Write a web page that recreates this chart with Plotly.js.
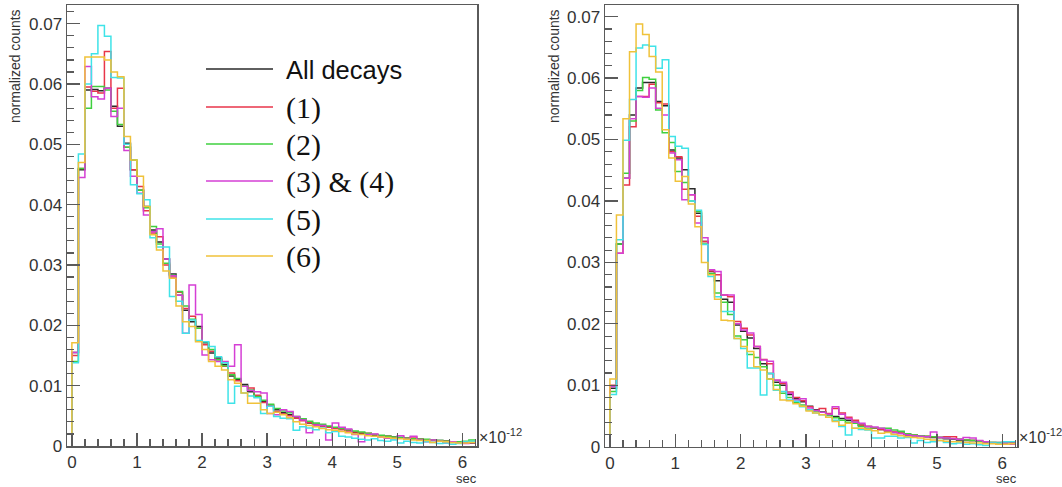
<!DOCTYPE html>
<html>
<head>
<meta charset="utf-8">
<script src="https://cdn.plot.ly/plotly-3.0.1.min.js"></script>
<style>
html,body{margin:0;padding:0;background:#fff;}
#chart{width:1062px;height:487px;}
</style>
</head>
<body>
<div id="chart"></div>
<script>
// Bin edges (units of 1e-12 s), 62 bins of width 0.1
const binEdges = [0,0.1,0.2,0.3,0.4,0.5,0.6,0.7,0.8,0.9,1.0,1.1,1.2,1.3,1.4,1.5,1.6,1.7,1.8,1.9,2.0,2.1,2.2,2.3,2.4,2.5,2.6,2.7,2.8,2.9,3.0,3.1,3.2,3.3,3.4,3.5,3.6,3.7,3.8,3.9,4.0,4.1,4.2,4.3,4.4,4.5,4.6,4.7,4.8,4.9,5.0,5.1,5.2,5.3,5.4,5.5,5.6,5.7,5.8,5.9,6.0,6.1,6.2];

const seriesNames = ["All decays","(1)","(2)","(3) & (4)","(5)","(6)"];

// ---- Left panel ----
const leftAll = [0.0155,0.0458,0.0590,0.0591,0.0589,0.0593,0.0563,0.0530,0.0502,0.0458,0.0424,0.0397,0.0358,0.0338,0.0310,0.0285,0.0250,0.0225,0.0206,0.0198,0.0171,0.0154,0.0146,0.0135,0.0116,0.0110,0.0102,0.0090,0.0082,0.0074,0.0066,0.0060,0.0055,0.0052,0.0048,0.0043,0.0038,0.0036,0.0033,0.0032,0.0030,0.0028,0.0026,0.0022,0.0021,0.0020,0.0018,0.0017,0.0016,0.0015,0.0014,0.0013,0.0012,0.0011,0.0010,0.0009,0.0009,0.0008,0.0007,0.0007,0.0006,0.0005];
const left1 = [0.0150,0.0460,0.0595,0.0588,0.0585,0.0654,0.0560,0.0593,0.0495,0.0458,0.0430,0.0390,0.0353,0.0347,0.0300,0.0280,0.0255,0.0228,0.0215,0.0195,0.0168,0.0157,0.0143,0.0132,0.0121,0.0108,0.0100,0.0096,0.0084,0.0072,0.0068,0.0057,0.0053,0.0050,0.0046,0.0042,0.0039,0.0035,0.0033,0.0031,0.0029,0.0027,0.0025,0.0023,0.0022,0.0021,0.0019,0.0017,0.0016,0.0014,0.0013,0.0013,0.0015,0.0011,0.0010,0.0010,0.0008,0.0008,0.0006,0.0007,0.0005,0.0006];
const left2 = [0.0140,0.0460,0.0560,0.0596,0.0596,0.0590,0.0555,0.0533,0.0495,0.0474,0.0424,0.0395,0.0364,0.0335,0.0303,0.0283,0.0256,0.0232,0.0210,0.0195,0.0173,0.0160,0.0143,0.0133,0.0118,0.0112,0.0100,0.0093,0.0082,0.0076,0.0069,0.0062,0.0058,0.0055,0.0049,0.0045,0.0041,0.0038,0.0036,0.0033,0.0031,0.0029,0.0027,0.0025,0.0023,0.0021,0.0019,0.0018,0.0016,0.0015,0.0014,0.0013,0.0012,0.0011,0.0011,0.0010,0.0009,0.0008,0.0007,0.0007,0.0008,0.0010];
const left34 = [0.0155,0.0445,0.0629,0.0579,0.0575,0.0593,0.0546,0.0560,0.0490,0.0447,0.0419,0.0383,0.0355,0.0360,0.0310,0.0282,0.0250,0.0187,0.0267,0.0218,0.0151,0.0143,0.0140,0.0140,0.0132,0.0168,0.0099,0.0092,0.0090,0.0088,0.0054,0.0052,0.0060,0.0057,0.0049,0.0043,0.0022,0.0035,0.0034,0.0010,0.0038,0.0031,0.0028,0.0019,0.0007,0.0019,0.0020,0.0015,0.0013,0.0012,0.0017,0.0011,0.0016,0.0010,0.0007,0.0010,0.0008,0.0005,0.0007,0.0005,0.0004,0.0006];
const left5 = [0.0138,0.0484,0.0600,0.0650,0.0697,0.0679,0.0611,0.0610,0.0500,0.0433,0.0418,0.0408,0.0345,0.0330,0.0330,0.0248,0.0240,0.0187,0.0209,0.0175,0.0173,0.0165,0.0148,0.0138,0.0071,0.0099,0.0088,0.0083,0.0080,0.0054,0.0066,0.0049,0.0046,0.0045,0.0026,0.0032,0.0030,0.0027,0.0030,0.0022,0.0024,0.0016,0.0015,0.0013,0.0011,0.0010,0.0012,0.0009,0.0008,0.0010,0.0005,0.0008,0.0006,0.0005,0.0007,0.0006,0.0004,0.0005,0.0003,0.0004,0.0007,0.0008];
const left6 = [0.0171,0.0470,0.0645,0.0645,0.0645,0.0640,0.0620,0.0612,0.0513,0.0474,0.0447,0.0397,0.0350,0.0325,0.0290,0.0278,0.0232,0.0206,0.0198,0.0173,0.0160,0.0140,0.0132,0.0126,0.0110,0.0104,0.0088,0.0071,0.0071,0.0060,0.0054,0.0056,0.0052,0.0047,0.0040,0.0036,0.0034,0.0032,0.0029,0.0027,0.0026,0.0024,0.0022,0.0020,0.0019,0.0017,0.0016,0.0015,0.0014,0.0013,0.0012,0.0011,0.0010,0.0009,0.0009,0.0006,0.0008,0.0007,0.0006,0.0005,0.0005,0.0006];

// ---- Right panel ----
const rightAll = [0.0095,0.0330,0.0437,0.0540,0.0584,0.0593,0.0593,0.0562,0.0555,0.0483,0.0470,0.0451,0.0420,0.0380,0.0334,0.0285,0.0270,0.0240,0.0235,0.0198,0.0188,0.0177,0.0160,0.0135,0.0119,0.0105,0.0100,0.0085,0.0078,0.0073,0.0066,0.0060,0.0057,0.0052,0.0049,0.0046,0.0043,0.0040,0.0035,0.0033,0.0030,0.0028,0.0026,0.0023,0.0022,0.0019,0.0018,0.0017,0.0016,0.0015,0.0015,0.0013,0.0012,0.0011,0.0010,0.0010,0.0009,0.0008,0.0007,0.0007,0.0006,0.0006];
const right1 = [0.0100,0.0315,0.0426,0.0521,0.0570,0.0570,0.0590,0.0560,0.0558,0.0480,0.0472,0.0419,0.0410,0.0375,0.0334,0.0286,0.0280,0.0247,0.0244,0.0204,0.0193,0.0182,0.0163,0.0142,0.0135,0.0108,0.0103,0.0089,0.0080,0.0075,0.0065,0.0059,0.0062,0.0054,0.0062,0.0055,0.0048,0.0043,0.0035,0.0033,0.0030,0.0028,0.0026,0.0024,0.0022,0.0020,0.0019,0.0018,0.0017,0.0016,0.0015,0.0016,0.0016,0.0012,0.0011,0.0010,0.0009,0.0008,0.0006,0.0005,0.0006,0.0007];
const right2 = [0.0090,0.0330,0.0445,0.0530,0.0580,0.0601,0.0598,0.0548,0.0511,0.0495,0.0448,0.0430,0.0400,0.0383,0.0330,0.0282,0.0250,0.0235,0.0215,0.0180,0.0174,0.0150,0.0145,0.0130,0.0110,0.0100,0.0087,0.0080,0.0072,0.0068,0.0060,0.0058,0.0056,0.0052,0.0047,0.0043,0.0040,0.0038,0.0033,0.0029,0.0031,0.0030,0.0030,0.0027,0.0025,0.0021,0.0019,0.0018,0.0017,0.0016,0.0015,0.0014,0.0013,0.0012,0.0011,0.0010,0.0009,0.0008,0.0007,0.0006,0.0006,0.0005];
const right34 = [0.0098,0.0315,0.0437,0.0534,0.0570,0.0569,0.0584,0.0551,0.0540,0.0478,0.0467,0.0402,0.0410,0.0364,0.0340,0.0288,0.0285,0.0247,0.0247,0.0200,0.0190,0.0185,0.0163,0.0141,0.0139,0.0108,0.0105,0.0087,0.0076,0.0078,0.0063,0.0059,0.0056,0.0053,0.0065,0.0053,0.0046,0.0040,0.0038,0.0033,0.0032,0.0030,0.0027,0.0023,0.0021,0.0019,0.0018,0.0017,0.0016,0.0024,0.0015,0.0014,0.0013,0.0012,0.0015,0.0014,0.0010,0.0008,0.0006,0.0005,0.0006,0.0004];
const right5 = [0.0085,0.0337,0.0499,0.0565,0.0649,0.0654,0.0652,0.0616,0.0630,0.0505,0.0489,0.0486,0.0400,0.0385,0.0329,0.0277,0.0244,0.0220,0.0220,0.0176,0.0160,0.0128,0.0128,0.0084,0.0119,0.0092,0.0090,0.0076,0.0074,0.0065,0.0060,0.0055,0.0052,0.0048,0.0043,0.0033,0.0019,0.0030,0.0028,0.0027,0.0014,0.0014,0.0017,0.0017,0.0014,0.0015,0.0006,0.0010,0.0007,0.0008,0.0010,0.0007,0.0005,0.0006,0.0004,0.0005,0.0003,0.0002,0.0006,0.0006,0.0008,0.0008];
const right6 = [0.0110,0.0377,0.0534,0.0643,0.0688,0.0671,0.0635,0.0610,0.0516,0.0470,0.0432,0.0440,0.0395,0.0358,0.0300,0.0280,0.0240,0.0206,0.0205,0.0176,0.0163,0.0155,0.0130,0.0125,0.0110,0.0093,0.0076,0.0075,0.0070,0.0066,0.0058,0.0055,0.0052,0.0048,0.0041,0.0035,0.0038,0.0030,0.0030,0.0028,0.0026,0.0022,0.0023,0.0020,0.0018,0.0016,0.0015,0.0014,0.0012,0.0011,0.0010,0.0009,0.0008,0.0008,0.0007,0.0006,0.0006,0.0005,0.0005,0.0004,0.0004,0.0005];

const leftSeries = [leftAll, left1, left2, left34, left5, left6];
const rightSeries = [rightAll, right1, right2, right34, right5, right6];
const colors = ["#2a2a2a","#e8354a","#3fd03f","#d53fd5","#3fe3e8","#f0c23a"];

// histogram outline: start at zero on the first edge, then step through bins
function histTrace(vals, color, xa, ya, name) {
  const xs = [binEdges[0]];
  const ys = [0];
  for (let i = 0; i < vals.length; i++) { xs.push(binEdges[i]); ys.push(vals[i]); }
  xs.push(binEdges[vals.length]); ys.push(vals[vals.length - 1]);
  return {x: xs, y: ys, type: 'scatter', mode: 'lines', name: name,
          line: {shape: 'hv', color: color, width: 1.5},
          xaxis: xa, yaxis: ya, showlegend: false, hoverinfo: 'skip'};
}

const traces = [];
leftSeries.forEach((s, i) => traces.push(histTrace(s, colors[i], 'x', 'y', seriesNames[i])));
rightSeries.forEach((s, i) => traces.push(histTrace(s, colors[i], 'x2', 'y2', seriesNames[i])));

const W = 1062, H = 487;
const px = v => v / W;
const py = v => 1 - v / H;

const tickFont = {family: 'Liberation Sans, Arial, sans-serif', size: 17, color: '#333'};
const frameColor = '#5a5a5a';

function xAxis(domain, anchor) {
  return {domain: domain, anchor: anchor, range: [-0.075, 6.225],
    tickmode: 'linear', tick0: 0, dtick: 1, ticks: 'inside', ticklen: 13, tickwidth: 1.3,
    tickcolor: frameColor,
    minor: {dtick: 0.2, tick0: 0, ticks: 'inside', ticklen: 7, tickwidth: 1.2, tickcolor: frameColor, showgrid: false},
    showline: true, linecolor: frameColor, linewidth: 1.5, mirror: true,
    showgrid: false, zeroline: false, tickfont: tickFont, fixedrange: true};
}
function yAxis(domain, anchor, top) {
  return {domain: domain, anchor: anchor, range: [0, top],
    tickmode: 'linear', tick0: 0, dtick: 0.01, ticks: 'inside', ticklen: 13, tickwidth: 1.3,
    tickcolor: frameColor,
    minor: {dtick: 0.002, tick0: 0, ticks: 'inside', ticklen: 7, tickwidth: 1.2, tickcolor: frameColor, showgrid: false},
    showline: true, linecolor: frameColor, linewidth: 1.5, mirror: true,
    showgrid: false, zeroline: false, tickfont: tickFont, fixedrange: true};
}

const annotations = [];
const shapes = [];

// axis titles (ROOT style: aligned to axis ends)
[15, 554].forEach(xc => {
  annotations.push({xref: 'paper', yref: 'paper', x: px(xc), y: py(7), xanchor: 'center', yanchor: 'top',
    text: 'normalized counts', textangle: -90, showarrow: false,
    font: {family: 'Liberation Sans, Arial, sans-serif', size: 14, color: '#333'}});
});
[477, 1017].forEach(xr => {
  annotations.push({xref: 'paper', yref: 'paper', x: px(xr + 1), y: 0, xanchor: 'right', yanchor: 'bottom',
    text: 'sec', showarrow: false, borderpad: 0,
    font: {family: 'Liberation Sans, Arial, sans-serif', size: 13, color: '#333'}});
  annotations.push({xref: 'paper', yref: 'paper', x: px(xr), y: py(436), xanchor: 'left', yanchor: 'middle',
    text: '\u00d710<sup>-12</sup>', showarrow: false,
    font: {family: 'Liberation Sans, Arial, sans-serif', size: 16, color: '#333'}});
});

// legend (drawn inside the left frame)
const legendY = [69, 107, 144, 181, 219, 256];
seriesNames.forEach((nm, i) => {
  shapes.push({type: 'line', xref: 'paper', yref: 'paper', x0: px(206), x1: px(273), y0: py(legendY[i]), y1: py(legendY[i]),
    line: {color: colors[i], width: 1.5}});
  annotations.push({xref: 'paper', yref: 'paper', x: px(284), y: py(legendY[i] + 1), xanchor: 'left', yanchor: 'middle',
    text: nm, showarrow: false,
    font: i === 0 ? {family: 'Liberation Sans, Arial, sans-serif', size: 25.5, color: '#111'}
                  : {family: 'Liberation Serif, Times New Roman, serif', size: 30, color: '#111'}});
});

const layout = {
  width: W, height: H,
  margin: {l: 0, r: 0, t: 0, b: 0},
  paper_bgcolor: '#fff', plot_bgcolor: '#fff',
  showlegend: false,
  xaxis: xAxis([px(67), px(477)], 'y'),
  yaxis: yAxis([py(446), py(5)], 'x', 0.0731),
  xaxis2: xAxis([px(605), px(1017)], 'y2'),
  yaxis2: yAxis([py(446.7), py(5)], 'x2', 0.0719),
  annotations: annotations,
  shapes: shapes
};

Plotly.newPlot('chart', traces, layout, {displayModeBar: false, staticPlot: true});
</script>
</body>
</html>
